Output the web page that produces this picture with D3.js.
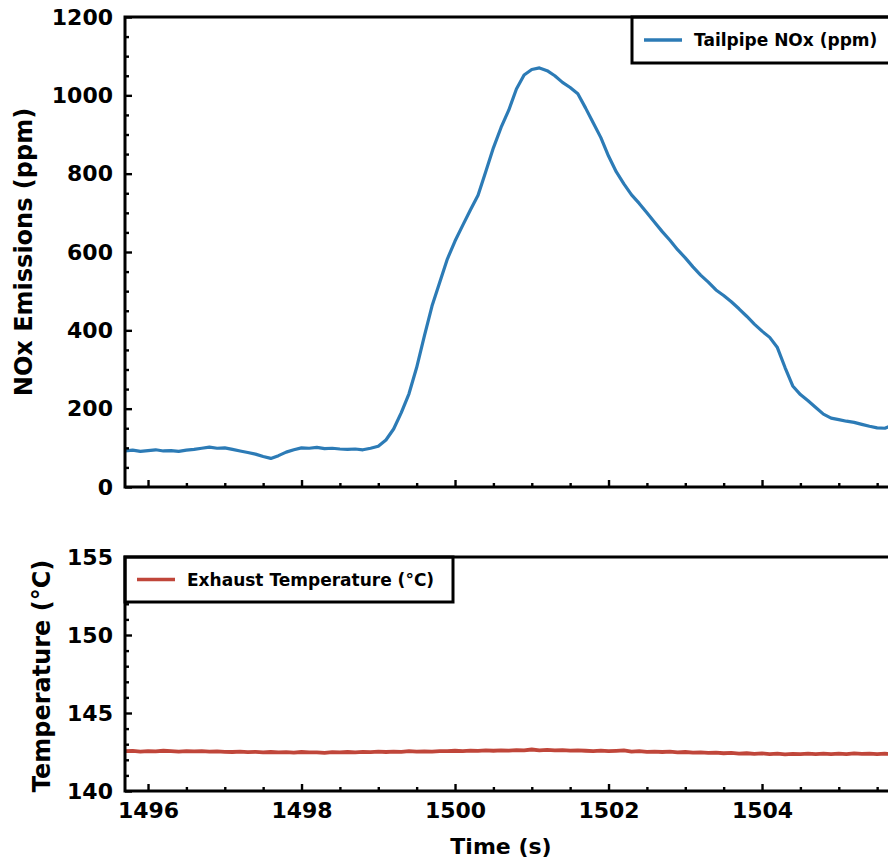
<!DOCTYPE html>
<html>
<head>
<meta charset="utf-8">
<script src="https://cdn.jsdelivr.net/npm/d3@7"></script>
<style>
  body { margin: 0; background: #fff; }
  svg { display: block; }
  text { font-family: "DejaVu Sans", sans-serif; font-weight: bold; fill: #000; }
</style>
</head>
<body>
<svg id="chart" width="888" height="861"></svg>
<script>
// Sample times (s)
const time = [
  1495.7, 1495.8, 1495.9, 1496.0, 1496.1, 1496.2, 1496.3, 1496.4, 1496.5, 1496.6,
  1496.7, 1496.8, 1496.9, 1497.0, 1497.1, 1497.2, 1497.3, 1497.4, 1497.5, 1497.6,
  1497.7, 1497.8, 1497.9, 1498.0, 1498.1, 1498.2, 1498.3, 1498.4, 1498.5, 1498.6,
  1498.7, 1498.8, 1498.9, 1499.0, 1499.1, 1499.2, 1499.3, 1499.4, 1499.5, 1499.6,
  1499.7, 1499.8, 1499.9, 1500.0, 1500.1, 1500.2, 1500.3, 1500.4, 1500.5, 1500.6,
  1500.7, 1500.8, 1500.9, 1501.0, 1501.1, 1501.2, 1501.3, 1501.4, 1501.5, 1501.6,
  1501.7, 1501.8, 1501.9, 1502.0, 1502.1, 1502.2, 1502.3, 1502.4, 1502.5, 1502.6,
  1502.7, 1502.8, 1502.9, 1503.0, 1503.1, 1503.2, 1503.3, 1503.4, 1503.5, 1503.6,
  1503.7, 1503.8, 1503.9, 1504.0, 1504.1, 1504.2, 1504.3, 1504.4, 1504.5, 1504.6,
  1504.7, 1504.8, 1504.9, 1505.0, 1505.1, 1505.2, 1505.3, 1505.4, 1505.5, 1505.6,
  1505.7
];

// Tailpipe NOx (ppm)
const noxPpm = [
   92,   94,   91,   93,   95,   92,   93,   91,   94,   96,
   99,  102,   99,  100,   96,   92,   88,   84,   78,   73,
   80,   89,   95,  100,   99,  101,   98,   99,   97,   96,
   97,   95,   99,  104,  120,  148,  190,  238,  305,  385,
  462,  522,  582,  628,  668,  707,  745,  805,  866,  918,
  962, 1016, 1052, 1066, 1070, 1063, 1050, 1033, 1020, 1004,
  968,  930,  892,  845,  805,  774,  746,  724,  700,  676,
  652,  630,  606,  585,  562,  541,  523,  503,  489,  473,
  455,  436,  416,  398,  382,  356,  305,  258,  236,  220,
  203,  186,  176,  172,  168,  165,  160,  155,  151,  150,
  158
];

// Exhaust temperature (°C)
const exhaustTempC = [
  142.55, 142.57, 142.53, 142.56, 142.54, 142.58, 142.55, 142.53, 142.56, 142.54,
  142.55, 142.52, 142.54, 142.51, 142.50, 142.53, 142.49, 142.51, 142.48, 142.50,
  142.47, 142.49, 142.46, 142.50, 142.47, 142.48, 142.45, 142.49, 142.47, 142.50,
  142.48, 142.51, 142.49, 142.52, 142.50, 142.53, 142.51, 142.55, 142.52, 142.54,
  142.53, 142.56, 142.55, 142.58, 142.56, 142.59, 142.57, 142.60, 142.58, 142.61,
  142.59, 142.62, 142.60, 142.66, 142.61, 142.63, 142.60, 142.62, 142.59, 142.61,
  142.58, 142.56, 142.59, 142.55, 142.57, 142.60, 142.53, 142.55, 142.51, 142.53,
  142.50, 142.52, 142.48, 142.50, 142.46, 142.48, 142.44, 142.46, 142.42, 142.44,
  142.40, 142.42, 142.38, 142.41, 142.37, 142.39, 142.35, 142.38, 142.36, 142.39,
  142.37, 142.40, 142.36, 142.39, 142.37, 142.41, 142.38, 142.40, 142.37, 142.39,
  142.38
];

const timeTicks = [1496, 1498, 1500, 1502, 1504];
const timeMinorTicks = [1496.5, 1497, 1497.5, 1498.5, 1499, 1499.5, 1500.5, 1501, 1501.5,
                        1502.5, 1503, 1503.5, 1504.5, 1505, 1505.5];
const noxTicks = [0, 200, 400, 600, 800, 1000, 1200];
const noxMinorTicks = [50, 100, 150, 250, 300, 350, 450, 500, 550, 650, 700, 750,
                       850, 900, 950, 1050, 1100, 1150];
const tempTicks = [140, 145, 150, 155];
const tempMinorTicks = [141, 142, 143, 144, 146, 147, 148, 149, 151, 152, 153, 154];

const seriesNames = ["Tailpipe NOx (ppm)", "Exhaust Temperature (°C)"];
const colors = { nox: "#2c7bb6", temp: "#c0463a" };

const svg = d3.select("#chart");

// Panel geometry
const left = 125, right = 892.5;
const top1 = 17, bottom1 = 487;
const top2 = 557, bottom2 = 791;

const x = d3.scaleLinear().domain([1495.7, 1505.7]).range([left, right]);
const yNox = d3.scaleLinear().domain([0, 1200]).range([bottom1, top1]);
const yTemp = d3.scaleLinear().domain([140, 155]).range([bottom2, top2]);

const defs = svg.append("defs");
defs.append("clipPath").attr("id", "clipTop")
  .append("rect").attr("x", left).attr("y", top1).attr("width", right - left).attr("height", bottom1 - top1);
defs.append("clipPath").attr("id", "clipBottom")
  .append("rect").attr("x", left).attr("y", top2).attr("width", right - left).attr("height", bottom2 - top2);

// Data lines
const noxLine = d3.line().x((d, i) => x(time[i])).y(d => yNox(d));
const tempLine = d3.line().x((d, i) => x(time[i])).y(d => yTemp(d));

svg.append("path")
  .datum(noxPpm)
  .attr("clip-path", "url(#clipTop)")
  .attr("d", noxLine)
  .attr("fill", "none")
  .attr("stroke", colors.nox)
  .attr("stroke-width", 3.2)
  .attr("stroke-linejoin", "round");

svg.append("path")
  .datum(exhaustTempC)
  .attr("clip-path", "url(#clipBottom)")
  .attr("d", tempLine)
  .attr("fill", "none")
  .attr("stroke", colors.temp)
  .attr("stroke-width", 3.8)
  .attr("stroke-linejoin", "round");

// Axes with inward ticks
function styleAxis(g) {
  g.select(".domain").remove();
  g.selectAll(".tick line").attr("stroke", "#000").attr("stroke-width", 2.4);
  g.selectAll(".tick text").style("font-size", "22px").style("font-family", "'DejaVu Sans', sans-serif")
    .style("font-weight", "bold").attr("fill", "#000");
}

function leftAxis(scale, major, minor) {
  svg.append("g").attr("transform", `translate(${left},0)`)
    .call(d3.axisLeft(scale).tickValues(major).tickSize(-7).tickPadding(12).tickFormat(d3.format("d")))
    .call(styleAxis);
  svg.append("g").attr("transform", `translate(${left},0)`)
    .call(d3.axisLeft(scale).tickValues(minor).tickSize(-4).tickFormat(""))
    .call(styleAxis);
}

function bottomAxis(yPos, labels) {
  svg.append("g").attr("transform", `translate(0,${yPos})`)
    .call(d3.axisBottom(x).tickValues(timeTicks).tickSize(-7).tickPadding(11)
      .tickFormat(labels ? d3.format("d") : ""))
    .call(styleAxis);
  svg.append("g").attr("transform", `translate(0,${yPos})`)
    .call(d3.axisBottom(x).tickValues(timeMinorTicks).tickSize(-4).tickFormat(""))
    .call(styleAxis);
}

leftAxis(yNox, noxTicks, noxMinorTicks);
leftAxis(yTemp, tempTicks, tempMinorTicks);
bottomAxis(bottom1, false);
bottomAxis(bottom2, true);

// Legends
function legend(bx, by, bw, bh, color, label) {
  const g = svg.append("g");
  g.append("rect").attr("x", bx).attr("y", by).attr("width", bw).attr("height", bh)
    .attr("fill", "#fff").attr("stroke", "#000").attr("stroke-width", 3);
  g.append("line").attr("x1", bx + 12).attr("x2", bx + 50)
    .attr("y1", by + bh / 2).attr("y2", by + bh / 2)
    .attr("stroke", color).attr("stroke-width", 3.5);
  g.append("text").attr("x", bx + 62).attr("y", by + bh / 2).attr("dy", "0.36em")
    .style("font-size", "17px").text(label);
}
legend(632, top1, 300, 46, colors.nox, seriesNames[0]);
legend(left, top2, 328, 45, colors.temp, seriesNames[1]);

// Spines
function spines(t, b) {
  const g = svg.append("g").attr("stroke", "#000").attr("stroke-width", 3).attr("fill", "none");
  g.append("rect").attr("x", left).attr("y", t).attr("width", right - left).attr("height", b - t);
}
spines(top1, bottom1);
spines(top2, bottom2);

// Axis titles
svg.append("text")
  .attr("transform", `translate(32,252) rotate(-90)`)
  .attr("text-anchor", "middle")
  .style("font-size", "24px")
  .text("NOx Emissions (ppm)");

svg.append("text")
  .attr("transform", `translate(50,676) rotate(-90)`)
  .attr("text-anchor", "middle")
  .style("font-size", "24px")
  .text("Temperature (°C)");

svg.append("text")
  .attr("x", 501).attr("y", 854)
  .attr("text-anchor", "middle")
  .style("font-size", "22px")
  .text("Time (s)");
</script>
</body>
</html>
